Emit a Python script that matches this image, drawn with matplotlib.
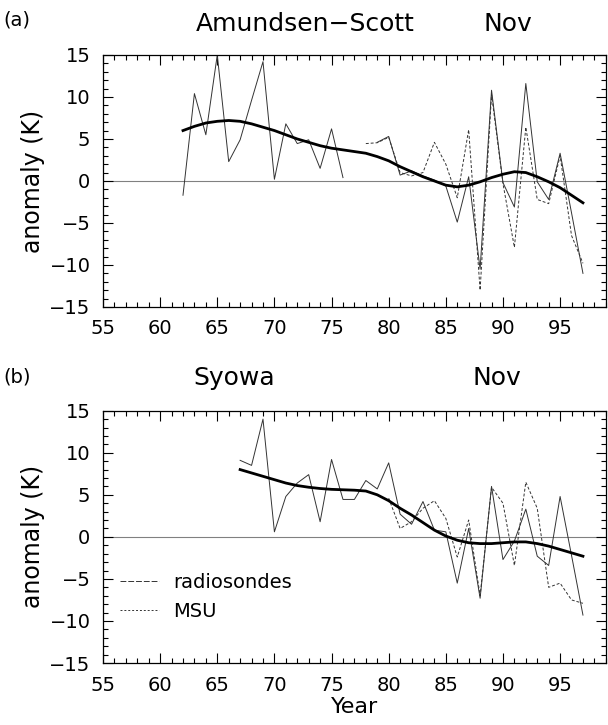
import numpy as np
import matplotlib
matplotlib.use("Agg")
import matplotlib.pyplot as plt
from matplotlib.ticker import MultipleLocator

plt.rcParams['font.family'] = ['DejaVu Sans']

# (a) Amundsen-Scott, November
years_a = np.arange(62, 98)
raob_a = [-1.7, 10.4, 5.5, 15.0, 2.3, 4.9, 9.6, 14.2, 0.2, 6.8, 4.45, 4.9, 1.5, 6.2, 0.4,
          np.nan, np.nan, 4.6, 5.3, 0.7, 1.2, 0.6, 0.1, -0.6, -4.9, 0.5, -10.5, 10.8, -0.2,
          -3.1, 11.6, -0.1, -2.2, 3.3, -3.8, -11.0]
smooth_a = [6.0, 6.5, 6.9, 7.1, 7.2, 7.1, 6.8, 6.4, 6.0, 5.5, 5.0, 4.6, 4.2, 3.9, 3.7, 3.5,
            3.3, 2.9, 2.4, 1.7, 1.1, 0.5, 0.0, -0.5, -0.7, -0.5, -0.1, 0.4, 0.8, 1.1, 1.0,
            0.5, -0.1, -0.8, -1.7, -2.6]
msu_years_a = np.arange(78, 98)
msu_a = [4.45, 4.55, 5.2, 1.0, 0.6, 1.0, 4.6, 2.0, -2.0, 6.1, -13.0, 10.3, -0.3, -7.9, 6.4,
         -2.2, -2.7, 3.0, -6.5, -9.8]

# (b) Syowa, November
years_b = np.arange(67, 98)
raob_b = [9.1, 8.5, 14.0, 0.6, 4.8, 6.4, 7.4, 1.8, 9.2, 4.45, 4.45, 6.7, 5.7, 8.8, 2.7, 1.5,
          4.2, 0.8, 0.6, -5.5, 1.0, -7.3, 6.0, -2.7, -0.5, 3.3, -2.3, -3.4, 4.8, -2.2, -9.3]
smooth_b = [8.0, 7.6, 7.2, 6.8, 6.4, 6.1, 5.9, 5.75, 5.65, 5.6, 5.55, 5.45, 5.0, 4.3, 3.4,
            2.6, 1.7, 0.8, 0.1, -0.4, -0.7, -0.8, -0.8, -0.7, -0.6, -0.6, -0.8, -1.1, -1.5,
            -1.9, -2.3]
msu_years_b = np.arange(80, 98)
msu_b = [4.6, 1.0, 1.8, 3.4, 4.3, 2.2, -2.4, 2.0, -7.0, 5.9, 4.0, -3.4, 6.5, 3.4, -6.0, -5.5,
         -7.5, -7.9]

xticks = [55, 60, 65, 70, 75, 80, 85, 90, 95]
yticks = [-15, -10, -5, 0, 5, 10, 15]

fig = plt.figure(figsize=(6.08, 7.25), dpi=100)
ax_a = fig.add_axes([0.1694, 0.5766, 0.827, 0.3476])
ax_b = fig.add_axes([0.1694, 0.0855, 0.827, 0.3480])


def style_axis(ax):
    ax.set_xlim(55, 99)
    ax.set_ylim(-15, 15)
    ax.set_xticks(xticks)
    ax.set_yticks(yticks)
    ax.set_yticklabels([str(v).replace('-', '\u2212') for v in yticks])
    ax.xaxis.set_minor_locator(MultipleLocator(1))
    ax.yaxis.set_minor_locator(MultipleLocator(1))
    ax.tick_params(which='both', direction='in', top=True, right=True, width=0.8)
    ax.tick_params(which='major', length=7, labelsize=14)
    ax.tick_params(axis='x', which='major', pad=9)
    ax.tick_params(axis='y', which='major', pad=9)
    ax.tick_params(which='minor', length=3.5)
    ax.axhline(0, color='#808080', lw=0.8, zorder=1)
    for s in ax.spines.values():
        s.set_linewidth(0.9)
    ax.set_ylabel('anomaly (K)', fontsize=17, labelpad=3)


style_axis(ax_a)
ax_a.plot(years_a, raob_a, color='#333333', lw=0.7)
ax_a.plot(msu_years_a, msu_a, color='#333333', lw=0.7, ls=(0, (3, 2)))
ax_a.plot(years_a, smooth_a, color='black', lw=2.0)

style_axis(ax_b)
ax_b.plot(years_b, raob_b, color='#333333', lw=0.7)
ax_b.plot(msu_years_b, msu_b, color='#333333', lw=0.7, ls=(0, (3, 2)))
ax_b.plot(years_b, smooth_b, color='black', lw=2.0)
ax_b.set_xlabel('Year', fontsize=16, labelpad=2)

h1, = ax_b.plot([], [], color='#333333', lw=0.7, ls=(0, (6, 2)))
h2, = ax_b.plot([], [], color='#333333', lw=0.7, ls=(0, (2, 2)))
ax_b.legend([h1, h2], ['radiosondes', 'MSU'], loc='upper left',
            bbox_to_anchor=(0.0, 0.425), frameon=False, fontsize=14,
            handlelength=2.0, handletextpad=0.7, labelspacing=0.5)

fig.text(0.005, 0.972, '(a)', fontsize=14, va='center')
fig.text(0.502, 0.967, 'Amundsen\u2212Scott', fontsize=18, ha='center', va='center')
fig.text(0.835, 0.967, 'Nov', fontsize=18, ha='center', va='center')
fig.text(0.005, 0.480, '(b)', fontsize=14, va='center')
fig.text(0.385, 0.478, 'Syowa', fontsize=18, ha='center', va='center')
fig.text(0.817, 0.478, 'Nov', fontsize=18, ha='center', va='center')

fig.savefig('out.png', dpi=100)
